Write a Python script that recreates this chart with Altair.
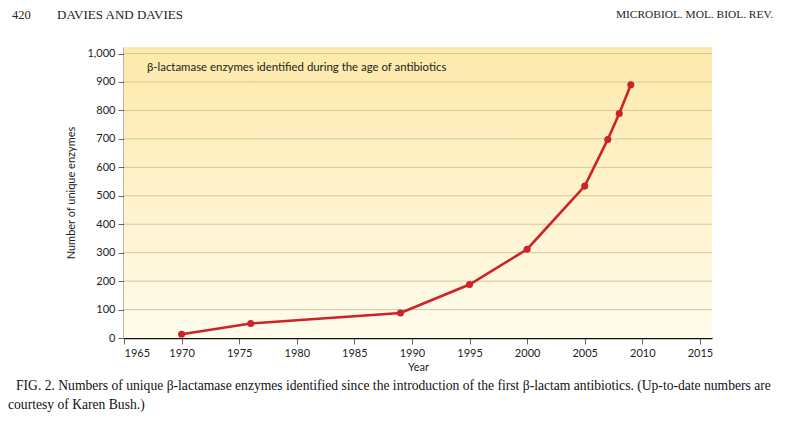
import altair as alt
import pandas as pd

years = [1970, 1976, 1989, 1995, 2000, 2005, 2007, 2008, 2009]
counts = [13, 51, 88, 188, 312, 534, 698, 789, 890]
x_ticks = list(range(1965, 2016, 5))
y_ticks = list(range(0, 1001, 100))
grid_vals = list(range(100, 1001, 100))

chart_title = "β-lactamase enzymes identified during the age of antibiotics"
page_num = "420"
header_left = "DAVIES AND DAVIES"
header_right = "MICROBIOL. MOL. BIOL. REV."
caption1 = ("FIG. 2. Numbers of unique β-lactamase enzymes identified since the introduction "
            "of the first β-lactam antibiotics. (Up-to-date numbers are")
caption2 = "courtesy of Karen Bush.)"

W, H = 588, 291
SANS = "Lato"
SERIF = "Liberation Serif"

df = pd.DataFrame({"Year": years, "Count": counts})

xscale = alt.Scale(domain=[1965, 2016.05], nice=False, zero=False)
yscale = alt.Scale(domain=[0, 1023], nice=False)

xaxis = alt.Axis(values=x_ticks, format="d", title="Year", grid=False, labelOverlap=False,
                 domainColor="#111", domainWidth=1.6, tickColor="#666", tickSize=6,
                 labelFont=SANS, labelFontSize=11, labelColor="#222", labelPadding=3,
                 titleFont=SANS, titleFontSize=11, titleFontWeight="normal", titleColor="#222",
                 titlePadding=3)
yaxis = alt.Axis(values=y_ticks, format=",d", title="Number of unique enzymes", grid=False,
                 labelOverlap=False, domainColor="#111", domainWidth=1.6,
                 tickColor="#666", tickSize=6, labelFont=SANS, labelFontSize=11,
                 labelColor="#222", labelPadding=3, titleFont=SANS, titleFontSize=11,
                 titleFontWeight="normal", titleColor="#222", titlePadding=10)

bg = alt.Chart(pd.DataFrame({"a": [0]})).mark_rect(
    fill=alt.Gradient(
        gradient="linear",
        stops=[alt.GradientStop(offset=0, color="#fde9aa"),
               alt.GradientStop(offset=1, color="#fffcec")],
        x1=0, x2=0, y1=0, y2=1,
    )
).encode(x=alt.value(0), x2=alt.value(W), y=alt.value(0), y2=alt.value(H))

grid = alt.Chart(pd.DataFrame({"g": grid_vals})).mark_rule(
    color="#d8c695", strokeWidth=1
).encode(y=alt.Y("g:Q", scale=yscale, axis=yaxis, title="Number of unique enzymes"),
         x=alt.value(0), x2=alt.value(W))

line = alt.Chart(df).mark_line(color="#cc2229", strokeWidth=2.6).encode(
    x=alt.X("Year:Q", scale=xscale, axis=xaxis),
    y=alt.Y("Count:Q", scale=yscale, axis=yaxis),
)
pts = alt.Chart(df).mark_circle(color="#cc2229", size=50, opacity=1).encode(
    x=alt.X("Year:Q", scale=xscale, axis=xaxis),
    y=alt.Y("Count:Q", scale=yscale, axis=yaxis),
)


def txt(s, x, y, font, size, align="left", color="#222"):
    return alt.Chart(pd.DataFrame({"t": [s]})).mark_text(
        font=font, fontSize=size, align=align, baseline="middle", color=color
    ).encode(x=alt.value(x), y=alt.value(y), text="t:N")


texts = [
    txt(chart_title, 23, 21, SANS, 11.4),
    txt(page_num, -112, -32, SERIF, 12.5),
    txt(header_left, -67, -32, SERIF, 13),
    txt(header_right, 649, -32, SERIF, 11.4, align="right"),
    txt(caption1, -108, 339, SERIF, 13.6, color="#111"),
    txt(caption2, -116, 358, SERIF, 13.6, color="#111"),
]

chart = alt.layer(bg, grid, line, pts, *texts).properties(
    width=W, height=H,
    autosize=alt.AutoSizeParams(type="none"),
    padding={"left": 116, "top": 39, "right": 86, "bottom": 83},
).configure_view(stroke=None)

chart.save("out.html", embed_options={"renderer": "svg", "actions": False})
